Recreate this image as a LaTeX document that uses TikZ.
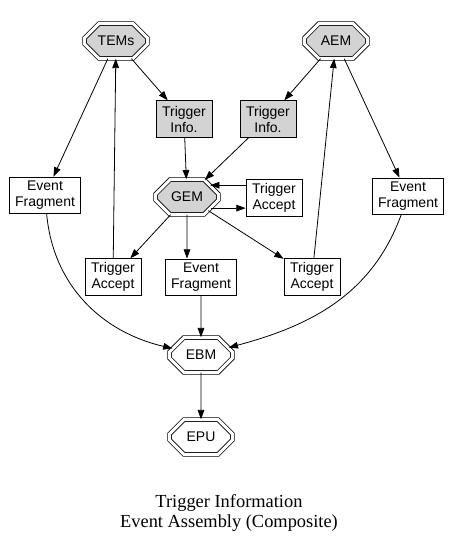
\documentclass[tikz,border=0pt]{standalone}
\usepackage{fontspec}
\setmainfont{Liberation Serif}
\newfontfamily\arialfont{Liberation Sans}
\usetikzlibrary{shapes.misc,arrows.meta}

\definecolor{lgray}{HTML}{D3D3D3}

\tikzset{
  every node/.style={font=\arialfont\fontsize{10.5}{12}\selectfont, align=center},
  dbloct/.style={chamfered rectangle, chamfered rectangle xsep=13.5pt,
    chamfered rectangle ysep=7pt, draw, double, double distance=2.25pt,
    minimum width=47pt, minimum height=26pt, inner sep=0pt},
  infobox/.style={draw, minimum width=42pt, minimum height=27.5pt, inner sep=2pt},
  fragbox/.style={draw, minimum width=53pt, minimum height=27pt, inner sep=2pt},
  link/.style={->},
}

\begin{document}
\begin{tikzpicture}[x=0.75pt, y=-0.75pt, line width=0.6pt,
    >={Triangle[length=7pt,width=5pt]}]
    \useasboundingbox (0,0) rectangle (452,547);
    % octagon nodes
    \node[dbloct, fill=lgray] (TEMs) at (116,41) {TEMs};
    \node[dbloct, fill=lgray] (AEM) at (336,41) {AEM};
    \node[dbloct, fill=lgray] (GEM) at (187,197) {GEM};
    \node[dbloct] (EBM) at (201,355) {EBM};
    \node[dbloct] (EPU) at (201,437) {EPU};
    % boxes
    \node[infobox, fill=lgray] (TIl) at (184,119) {Trigger\\Info.};
    \node[infobox, fill=lgray] (TIr) at (268,119) {Trigger\\Info.};
    \node[infobox] (TAg) at (274,198) {Trigger\\Accept};
    \node[fragbox] (EFl) at (45,195) {Event\\Fragment};
    \node[fragbox] (EFr) at (408,196) {Event\\Fragment};
    \node[infobox] (TAl) at (113,277) {Trigger\\Accept};
    \node[fragbox] (EFm) at (201,277) {Event\\Fragment};
    \node[infobox] (TAr) at (312,277) {Trigger\\Accept};
    % title
    \node[font=\fontsize{13.8}{15}\selectfont] (title) at (229,513)
      {Trigger Information\\Event Assembly (Composite)};
    % edges
    \draw[link] (TEMs) -- (TIl);
    \draw[link] (TEMs) -- (EFl);
    \draw[link] (TAl) -- (TEMs);
    \draw[link] (AEM) -- (TIr);
    \draw[link] (AEM) -- (EFr);
    \draw[link] (TAr) -- (AEM);
    \draw[link] (TIl) -- (GEM);
    \draw[link] (TIr) -- (GEM);
    \draw[link] (TAg.west |- GEM.27) -- (GEM.27);
    \draw[link] (GEM.-25) -- (TAg.west |- GEM.-25);
    \draw[link] (GEM) -- (TAl);
    \draw[link] (GEM) -- (EFm.north -| GEM);
    \draw[link] (GEM) -- (TAr);
    \draw[link] (EFl) to[out=-85, in=167] (EBM);
    \draw[link] (EFm) -- (EBM);
    \draw[link] (EFr) to[out=-110, in=15] (EBM);
    \draw[link] (EBM) -- (EPU);
\end{tikzpicture}
\end{document}
